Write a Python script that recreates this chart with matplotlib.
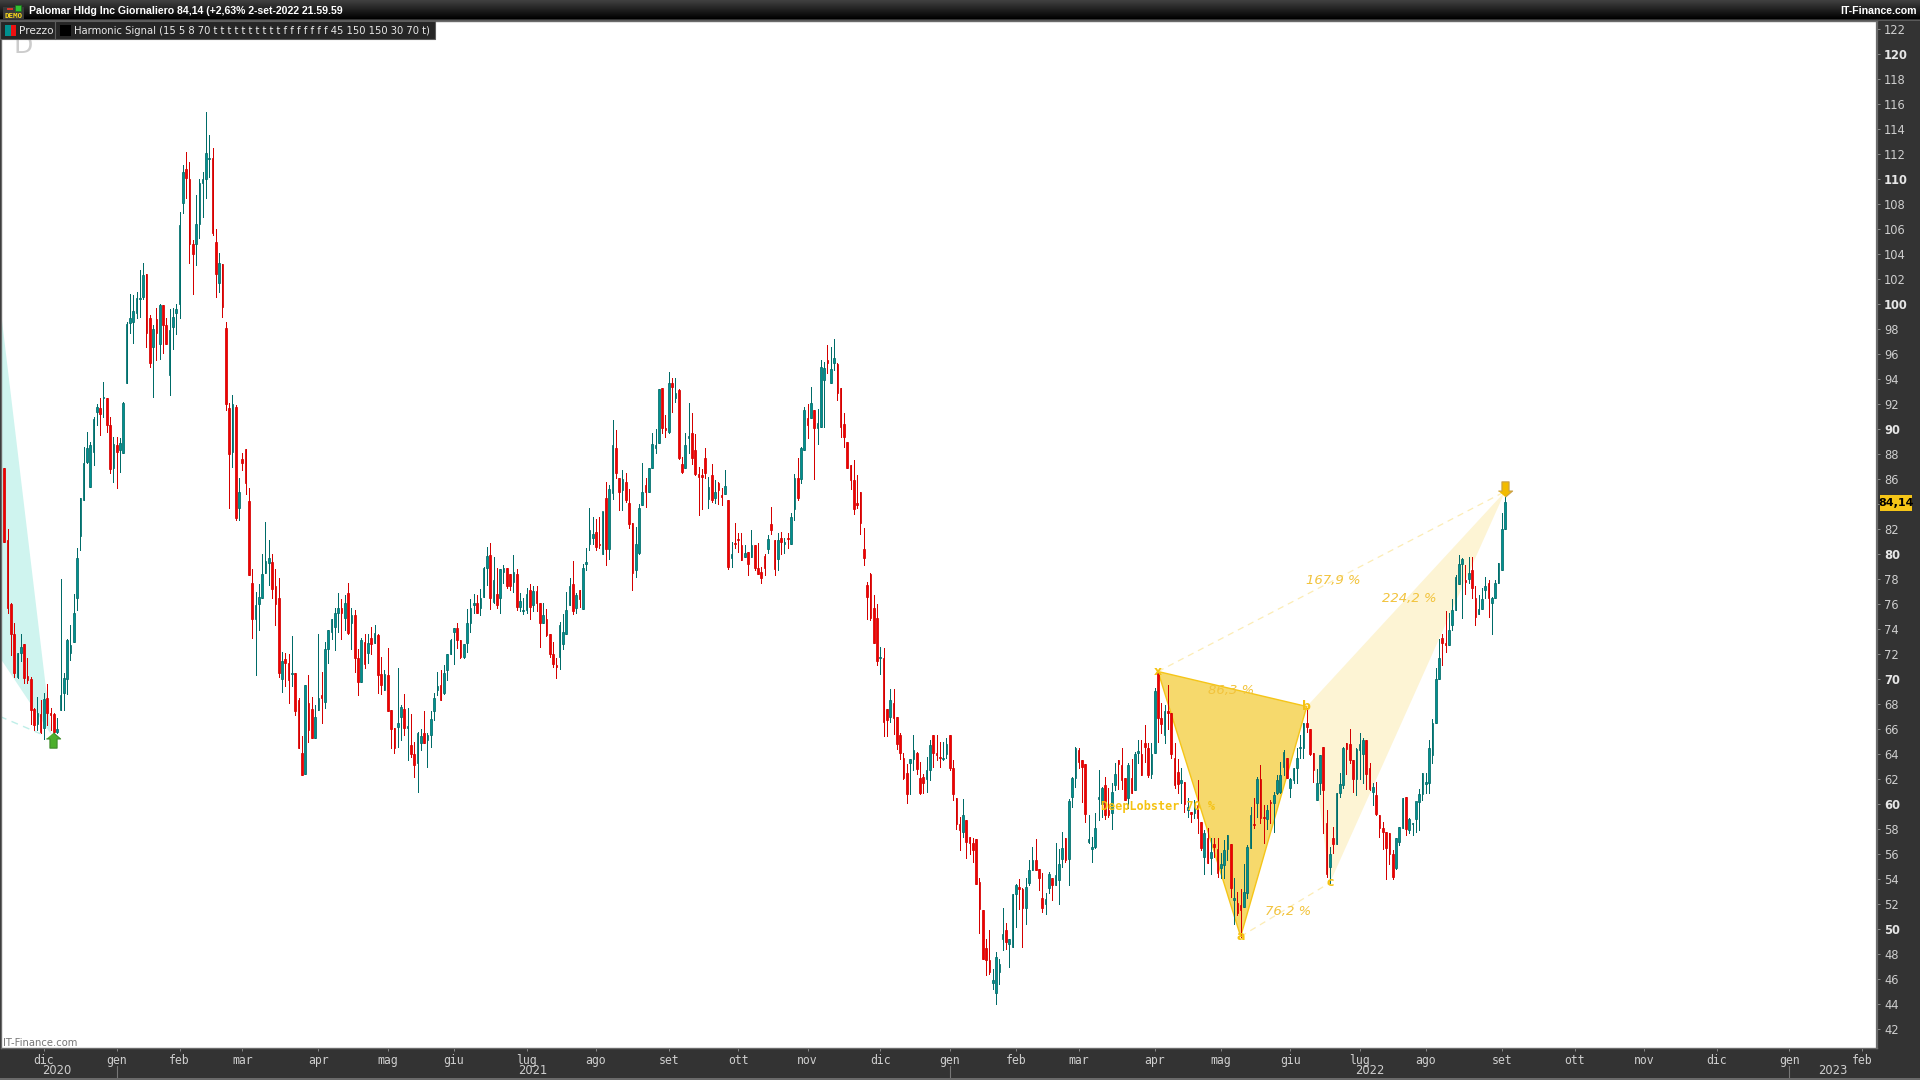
import matplotlib
matplotlib.use("Agg")
import matplotlib.pyplot as plt
import numpy as np
from matplotlib.patches import Rectangle
from matplotlib.transforms import blended_transform_factory

# daily candles, one row = 10 sessions
opens = [
    86.9,81.1,76.0,73.6,70.2,72.1,72.8,70.2,70.0,67.6,
    66.4,67.2,66.1,68.5,67.3,67.2,65.8,67.5,68.9,70.0,
    72.1,73.0,76.5,81.4,84.3,87.4,85.4,88.2,91.4,91.7,
    92.5,92.5,90.3,86.9,88.7,88.3,88.1,93.7,98.5,98.6,
    99.3,100.4,100.6,102.4,98.9,96.6,98.8,96.8,99.9,98.3,
    94.3,98.2,99.3,100.0,108.1,110.8,110.0,104.8,104.8,106.4,
    109.7,110.0,111.6,111.7,105.0,101.7,103.2,98.1,91.7,88.2,
    91.8,83.7,87.6,88.4,84.2,77.7,74.8,76.0,76.5,78.5,
    79.3,79.4,77.4,76.5,70.0,71.6,71.3,70.4,70.5,68.3,
    64.1,62.4,68.1,67.6,65.3,67.5,68.7,68.2,72.4,73.8,
    74.2,75.3,75.7,74.9,76.9,74.5,75.1,71.7,69.8,73.0,
    72.1,73.3,72.9,73.5,70.4,69.1,70.3,67.5,66.1,66.2,
    67.0,67.6,66.1,64.7,64.0,63.3,64.9,65.7,65.1,65.5,
    67.4,69.1,69.5,68.9,70.7,72.0,73.8,74.1,73.1,71.8,
    72.9,74.5,75.9,76.1,75.7,76.6,78.9,79.9,76.2,76.8,
    76.5,78.6,78.9,78.4,77.8,78.4,75.8,75.4,75.5,77.1,
    75.9,77.0,76.1,74.5,74.8,73.6,72.0,71.1,71.8,72.8,
    73.6,75.9,77.6,75.7,77.1,75.6,79.2,80.8,81.3,81.8,
    80.8,80.0,84.5,80.4,84.9,88.5,86.1,85.1,85.8,84.1,
    82.5,78.7,80.1,83.9,85.5,85.0,86.9,88.5,88.9,93.3,
    90.1,89.8,93.7,92.5,93.1,87.2,86.9,89.3,89.7,88.3,
    86.4,86.3,87.7,84.4,86.3,84.5,85.7,84.7,84.8,84.3,
    79.7,80.9,81.2,80.7,79.8,80.2,79.8,80.7,78.9,78.6,
    79.8,80.4,82.4,81.1,79.6,81.3,80.8,81.3,80.8,83.6,
    86.1,86.0,88.3,90.9,90.9,91.5,90.1,90.2,93.9,95.5,
    93.7,95.3,95.2,93.3,90.4,89.0,87.1,85.9,84.1,85.0,
    80.4,77.5,78.4,75.7,74.9,71.7,71.7,67.6,67.0,68.1,
    67.0,65.5,63.7,62.5,63.3,63.6,64.1,62.1,62.2,62.0,
    62.7,65.5,64.1,63.8,63.6,64.0,65.5,62.9,60.5,58.4,
    57.8,58.7,57.4,56.9,57.2,53.8,51.5,48.5,47.5,45.7,
    44.9,46.6,49.2,49.9,48.8,48.6,52.8,53.4,53.2,51.7,
    53.7,54.7,55.5,54.8,52.5,52.0,53.3,54.1,53.5,53.9,
    55.6,57.3,55.6,60.6,62.1,64.3,63.5,63.2,57.0,56.4,
    56.6,60.4,60.0,61.5,59.5,59.3,61.5,63.5,63.1,62.1,
    60.5,62.1,61.1,64.1,64.0,64.9,64.5,62.4,64.1,70.5,
    66.9,65.5,67.4,67.3,63.7,62.6,61.7,61.8,59.5,59.4,
    59.3,59.9,58.6,55.8,57.3,55.7,56.8,56.4,54.9,55.1,
    56.4,56.8,52.3,52.1,51.9,51.8,52.9,56.5,58.4,60.1,
    62.0,59.0,58.8,60.2,60.1,60.9,61.0,63.0,63.7,61.3,
    61.9,62.9,64.5,64.5,66.5,66.0,64.1,60.3,61.7,64.6,
    58.5,55.0,57.3,56.8,60.9,61.5,64.9,64.8,63.5,62.0,
    64.3,64.0,65.1,62.9,61.0,60.7,59.1,58.1,57.8,57.7,
    56.0,54.9,57.0,58.1,60.6,57.9,58.4,58.8,60.2,60.8,
    61.6,61.7,63.9,66.5,70.0,73.3,72.9,72.7,74.3,75.5,
    77.6,79.2,77.9,78.0,78.7,76.5,75.2,75.6,77.1,77.7,
    76.1,76.5,77.7,78.7,82.0,
]
closes = [
    81.0,75.7,73.6,70.5,72.1,72.6,70.1,69.9,67.5,66.3,
    67.3,65.8,68.4,67.3,67.1,65.8,66.0,68.7,70.1,73.1,
    72.7,75.3,79.7,84.5,87.3,88.5,88.7,90.8,91.8,91.2,
    92.6,90.3,86.8,88.8,88.2,88.9,92.1,98.4,98.9,99.4,
    100.5,100.5,102.3,97.7,95.3,98.0,97.7,99.9,98.3,96.8,
    97.9,99.0,99.6,106.3,110.6,110.1,104.8,104.0,106.4,109.7,
    110.0,112.1,111.7,105.7,102.4,103.3,99.8,92.0,88.0,92.0,
    82.9,85.0,87.3,85.7,78.3,74.8,75.9,76.6,78.4,79.4,
    79.7,77.2,76.0,70.5,71.4,71.3,69.9,70.5,67.4,64.5,
    62.3,69.5,65.9,65.3,67.0,68.5,68.5,72.4,73.9,74.8,
    75.3,75.7,75.3,76.1,73.7,75.1,71.7,69.8,73.1,71.2,
    72.9,72.8,73.7,70.3,69.5,70.4,67.4,66.0,64.5,66.5,
    67.8,66.1,66.2,64.0,63.1,65.7,65.4,64.9,65.5,66.8,
    68.5,69.4,68.3,70.5,72.0,73.1,74.1,73.1,71.8,72.8,
    74.5,75.7,76.1,75.3,76.5,78.9,79.8,76.5,77.9,75.9,
    78.8,78.9,77.4,77.4,78.6,75.8,76.2,75.5,76.8,75.8,
    77.0,76.1,74.5,75.1,73.5,72.0,71.2,71.0,74.3,73.8,
    75.5,77.4,75.4,76.7,76.4,78.9,79.4,81.9,81.6,80.6,
    80.7,83.4,80.4,85.2,88.7,86.5,85.0,86.0,84.3,82.4,
    78.5,80.8,83.7,85.0,85.0,86.9,88.8,88.7,93.2,90.1,
    89.9,93.7,93.4,92.9,87.7,86.6,88.7,89.4,87.7,86.4,
    86.2,86.2,86.5,85.4,84.3,85.0,85.1,84.6,85.4,79.0,
    80.0,80.8,81.1,79.5,80.1,79.2,80.7,78.9,78.4,78.1,
    78.9,81.2,81.9,78.8,81.1,81.0,81.0,81.2,83.0,86.1,
    84.5,88.5,91.5,90.3,92.1,90.1,90.5,95.0,94.9,95.3,
    94.8,95.7,92.9,90.2,89.4,86.9,85.9,83.6,83.9,82.5,
    79.7,76.6,74.9,72.9,71.4,71.8,66.6,66.7,68.3,66.9,
    64.8,64.1,62.1,60.8,63.6,64.3,62.8,60.9,61.7,62.7,
    64.7,64.1,63.9,63.7,63.7,64.8,62.9,60.8,58.4,57.9,
    59.1,57.0,56.9,56.3,53.6,51.6,47.6,47.5,46.6,45.9,
    47.8,47.2,49.6,49.0,49.2,52.8,53.5,53.2,51.7,53.4,
    54.7,55.5,54.7,54.1,51.7,52.4,54.4,53.5,54.3,55.2,
    56.5,55.5,60.2,62.1,64.5,63.4,63.0,59.2,57.2,56.6,
    58.1,60.6,61.3,59.1,59.1,61.0,62.4,63.2,61.9,60.3,
    63.1,60.9,64.0,64.2,62.3,64.6,62.3,64.0,69.0,66.9,
    66.4,67.4,67.3,64.0,61.5,61.6,61.9,60.0,59.8,59.2,
    60.1,58.9,56.5,57.7,55.3,56.2,56.6,54.5,55.2,56.3,
    57.5,53.3,52.5,51.3,51.5,53.0,56.6,59.1,58.3,62.0,
    58.9,58.9,59.5,60.1,60.7,61.9,62.3,64.2,62.1,62.0,
    62.9,63.7,64.6,66.5,66.2,64.0,62.7,61.7,63.9,61.1,
    54.4,56.0,56.8,60.9,61.6,64.5,64.4,63.5,62.0,64.4,
    64.8,65.1,62.4,61.2,61.4,59.2,58.1,57.8,56.5,56.0,
    54.2,57.3,58.2,60.5,58.0,58.8,58.5,60.2,60.8,62.5,
    61.8,64.5,66.5,70.0,71.7,72.9,72.7,73.9,75.5,78.2,
    79.2,79.6,77.8,78.5,77.3,75.0,75.6,76.4,77.4,76.5,
    76.5,77.7,79.3,82.0,84.14,
]
highs = [
    86.9,82.0,76.1,74.5,72.1,73.6,72.8,71.7,70.2,67.7,
    68.6,68.3,68.9,69.6,67.7,67.3,66.9,78.0,70.5,73.2,
    74.3,76.8,80.5,84.5,88.6,89.8,89.0,91.0,92.0,92.5,
    93.8,92.5,91.0,89.4,89.4,89.3,92.2,98.6,100.8,100.7,
    101.0,102.7,103.3,102.4,99.1,98.3,99.7,100.0,99.9,98.9,
    99.6,99.7,100.0,107.4,111.1,112.2,111.4,105.1,108.7,110.0,
    110.6,115.4,113.5,112.5,106.0,104.1,103.2,98.6,92.1,92.7,
    91.9,86.1,88.1,88.4,85.3,78.8,77.0,77.6,80.0,82.6,
    81.1,80.0,78.8,78.1,72.2,72.1,72.0,73.4,70.5,68.5,
    65.4,69.5,70.3,68.6,67.9,73.6,70.6,73.0,73.9,74.8,
    75.7,76.9,76.4,76.7,77.7,75.7,75.5,72.4,73.3,73.6,
    73.6,74.2,74.3,73.6,71.8,70.7,72.5,67.5,66.1,70.9,
    67.9,68.8,67.7,67.2,65.0,65.8,66.0,67.4,65.7,67.4,
    68.9,70.6,70.7,71.1,72.0,73.2,74.1,74.5,73.1,72.8,
    75.6,76.4,76.8,76.7,77.2,79.0,80.6,80.9,79.8,78.9,
    78.8,79.1,78.9,78.4,79.9,78.8,76.9,76.5,77.3,77.6,
    77.4,77.4,76.1,76.1,75.6,73.6,73.0,71.7,74.6,75.2,
    77.0,78.1,79.4,76.9,77.1,79.2,80.5,83.7,83.0,82.8,
    83.0,83.4,85.8,85.5,90.7,89.9,86.1,86.7,86.5,85.2,
    82.5,82.2,84.0,87.3,86.1,86.9,89.7,90.0,93.2,93.3,
    91.1,94.6,94.1,94.1,93.2,87.8,89.7,92.1,91.3,89.6,
    87.0,86.8,88.5,86.2,87.2,85.9,85.8,85.3,86.7,84.3,
    81.0,82.5,81.7,81.7,80.7,80.2,81.9,80.7,80.9,79.0,
    80.0,81.5,83.8,81.1,81.7,81.8,81.3,81.7,83.3,86.4,
    87.7,88.6,91.8,92.0,93.4,91.5,91.6,95.5,95.4,96.7,
    96.6,97.2,95.3,93.3,91.3,89.0,87.1,87.5,86.3,85.0,
    82.1,77.8,78.5,76.7,76.0,72.6,72.5,67.6,69.2,69.2,
    67.0,65.7,64.1,63.2,63.6,65.5,64.2,63.4,62.4,63.8,
    65.1,65.5,65.5,65.0,65.0,65.3,65.5,63.5,60.5,59.0,
    60.4,58.7,57.4,57.3,57.2,54.1,51.5,49.2,49.9,46.8,
    48.2,47.6,51.7,50.5,49.2,52.8,53.6,54.0,53.3,54.1,
    55.5,56.6,57.2,54.8,54.5,52.9,54.6,54.1,56.9,56.4,
    57.8,57.3,60.4,62.2,64.6,64.5,63.5,63.2,59.1,57.4,
    59.3,62.7,61.4,62.2,61.3,61.7,63.3,63.5,64.5,62.1,
    63.3,63.6,64.2,65.1,65.1,66.3,64.9,64.9,69.3,70.5,
    68.1,67.9,69.5,67.3,64.9,63.6,62.9,61.8,60.5,59.4,
    60.3,61.9,58.6,57.9,58.1,57.3,57.3,57.3,56.1,57.1,
    57.5,56.8,54.1,53.0,53.2,55.2,56.7,59.8,60.5,62.2,
    63.1,59.9,59.9,60.3,61.0,62.3,63.4,64.3,63.7,62.1,
    62.9,64.5,65.5,66.5,67.7,66.0,64.1,62.8,63.9,64.6,
    59.5,56.6,58.2,60.9,62.5,64.6,64.9,66.0,63.5,64.5,
    65.7,65.3,65.1,63.3,61.7,61.8,59.1,58.6,57.8,57.7,
    56.3,57.3,58.2,60.5,60.6,58.9,58.5,60.2,61.2,62.5,
    62.5,65.1,66.8,70.9,73.2,73.6,75.4,75.3,76.4,78.3,
    79.9,79.7,79.1,79.8,79.8,77.4,76.7,77.3,78.2,77.9,
    76.6,77.9,79.3,83.3,84.6,
]
lows = [
    81.0,75.3,71.9,70.2,70.1,71.4,69.7,69.7,66.4,65.9,
    65.9,65.7,65.2,66.3,65.9,65.7,65.7,67.5,67.5,68.8,
    71.5,73.0,75.5,80.3,84.3,87.3,85.4,87.1,90.3,89.5,
    91.0,89.8,86.5,85.8,85.3,86.6,88.1,93.7,97.7,96.9,
    98.9,99.0,100.4,96.6,95.0,92.6,95.5,95.6,96.1,96.8,
    92.7,96.4,97.6,98.9,107.3,108.5,103.3,100.8,103.1,105.3,
    107.0,108.5,110.2,105.5,100.6,101.0,99.0,91.5,83.7,87.0,
    82.7,82.7,86.7,84.8,78.3,73.3,70.3,73.9,76.5,78.5,
    77.5,76.5,74.3,70.2,69.0,69.4,68.1,69.4,67.1,64.5,
    62.3,62.4,65.0,65.3,65.3,67.5,66.5,67.7,71.3,73.2,
    72.3,73.8,73.2,73.9,73.6,72.4,70.6,68.7,69.8,70.9,
    71.3,72.0,72.9,68.9,68.8,69.1,67.4,64.5,64.1,64.6,
    65.1,65.5,63.5,63.8,62.2,61.0,64.3,64.9,63.0,64.6,
    66.7,68.7,68.3,68.8,69.9,72.0,71.2,72.5,71.7,71.7,
    72.2,73.8,75.3,75.3,75.1,76.6,77.5,75.6,76.1,75.7,
    75.3,77.7,77.3,77.1,77.0,75.5,75.4,75.2,75.3,74.8,
    75.4,75.4,72.6,74.5,73.4,71.8,71.0,70.1,70.8,72.4,
    73.6,75.9,75.2,75.3,75.8,75.6,78.7,80.3,80.8,80.3,
    80.5,80.0,79.1,79.6,84.4,86.1,83.5,83.5,84.2,82.1,
    77.1,78.2,80.0,83.9,83.8,85.0,86.9,88.1,88.9,89.7,
    89.4,89.7,91.4,92.2,87.6,86.5,86.9,88.1,87.2,86.3,
    83.1,83.6,86.1,83.7,84.2,84.1,84.0,83.9,84.8,78.8,
    79.0,80.5,80.2,79.5,79.8,78.3,79.8,78.7,78.4,77.7,
    78.3,80.1,81.6,78.3,78.7,80.0,80.1,80.5,80.8,82.7,
    84.3,85.7,88.3,89.3,90.9,86.0,88.8,90.2,90.2,94.5,
    93.7,94.7,92.3,89.4,88.6,86.9,85.2,83.2,83.7,81.6,
    79.1,74.8,74.7,72.9,71.1,70.4,65.4,65.4,66.6,65.6,
    64.4,63.6,62.0,60.1,60.8,62.7,62.4,60.8,60.9,61.0,
    61.9,63.0,63.5,63.0,63.5,63.7,62.7,60.3,58.0,56.3,
    57.4,55.7,56.0,55.4,53.6,49.7,47.6,46.3,46.4,45.2,
    44.0,45.6,48.3,48.4,47.0,48.6,50.2,51.6,48.6,50.4,
    53.5,54.7,54.7,53.1,51.4,51.2,52.9,52.3,53.5,52.0,
    55.0,55.4,53.5,59.8,61.4,62.9,60.2,58.6,56.9,55.4,
    56.5,58.7,59.0,58.8,59.0,58.0,61.1,61.2,61.2,60.3,
    59.7,60.9,61.1,63.3,62.3,63.4,62.2,62.1,64.1,65.0,
    65.7,64.9,66.0,63.7,61.3,60.9,60.1,59.4,59.0,58.6,
    58.9,57.7,56.3,54.4,55.3,54.4,55.8,54.2,54.1,54.1,
    55.5,52.6,50.4,51.1,49.4,51.8,52.5,56.5,58.1,59.0,
    58.5,56.9,58.0,58.5,57.8,60.8,60.9,62.3,62.1,60.6,
    61.7,61.7,63.7,63.7,65.8,63.9,61.8,60.3,60.8,57.7,
    54.2,53.7,56.1,56.8,60.6,61.3,62.4,63.3,61.0,60.7,
    62.0,61.7,61.2,61.1,59.9,59.1,57.4,56.4,54.0,55.2,
    54.0,54.8,56.7,58.1,57.5,57.7,57.5,57.8,57.9,60.3,
    60.9,60.9,63.3,66.5,70.0,71.1,72.2,72.7,73.9,75.5,
    77.6,74.9,76.8,77.7,76.5,74.3,75.2,75.6,76.5,75.0,
    73.6,76.5,77.7,78.7,82.0,
]

# session index of the first session of each month on the time axis
month_ticks = [12, 34, 53, 72, 95, 116, 136, 158, 179, 201, 222, 243, 265, 286, 306,
               325, 348, 368, 389, 410, 430, 453, 475, 496, 518, 540, 562]
month_labels = ["dic", "gen", "feb", "mar", "apr", "mag", "giu", "lug", "ago", "set", "ott",
                "nov", "dic", "gen", "feb", "mar", "apr", "mag", "giu", "lug", "ago", "set",
                "ott", "nov", "dic", "gen", "feb"]
year_breaks = [34, 286, 540]
year_label_pos = [16, 160, 413, 553]
year_labels = ["2020", "2021", "2022", "2023"]

price_ticks = list(range(42, 124, 2))

# harmonic pattern pivots X a b c d
pivot_idx = [349, 374, 394, 401, 454]
pivot_price = [70.6, 49.4, 67.8, 53.7, 85.0]
pivot_names = ["x", "a", "b", "c"]
ratio_labels = ["167,9 %", "224,2 %", "86,3 %", "76,2 %"]
ratio_idx = [402, 425, 371, 388.5]
ratio_price = [77.9, 76.4, 69.1, 51.4]
pattern_label = "DeepLobster 70 %"

# older pattern that ends just after the left edge
old_idx = [-1.3, 14.3, -1.3]
old_price = [100.0, 65.5, 71.7]
old_dash_idx = [-1.3, 12.0]
old_dash_price = [67.0, 65.5]

last_close = 84.14
up_signal = (14.7, 65.1)
down_signal = (454, 85.2)

TEAL = "#009090"
TEAL_EDGE = "#006b68"
RED = "#f00000"
RED_EDGE = "#d40000"
PANEL = "#333333"
GOLD = "#f5c211"

WIDTH, HEIGHT = 1920, 1080
fig = plt.figure(figsize=(WIDTH / 100, HEIGHT / 100), dpi=100, facecolor=PANEL)
ax = fig.add_axes([1 / WIDTH, 1 - 1048 / HEIGHT, 1876 / WIDTH, 1027 / HEIGHT], facecolor="white")
ax.set_xlim(-1.0, 566.5)
ax.set_ylim(40.48, 122.64)

# pattern fills sit under the candles
ax.fill(old_idx, old_price, color="#cff4ef", linewidth=0, zorder=1)
ax.plot(old_dash_idx, old_dash_price, color="#bfeee8", linewidth=1, dashes=(5, 4), zorder=1)
ax.fill(pivot_idx[:3], pivot_price[:3], color="#f6d96c", linewidth=0, zorder=1)
ax.fill([pivot_idx[2], pivot_idx[3], pivot_idx[4]], [pivot_price[2], pivot_price[3], pivot_price[4]],
        color="#fdf4d4", linewidth=0, zorder=1)
ax.plot([pivot_idx[0], pivot_idx[1], pivot_idx[2], pivot_idx[0]],
        [pivot_price[0], pivot_price[1], pivot_price[2], pivot_price[0]],
        color="#f5c518", linewidth=1.0, zorder=2)
ax.plot([pivot_idx[0], pivot_idx[4]], [pivot_price[0], pivot_price[4]], color="#fcecb4",
        linewidth=0.9, dashes=(5, 4), zorder=2)
ax.plot([pivot_idx[1], pivot_idx[3]], [pivot_price[1], pivot_price[3]], color="#fcecb4",
        linewidth=0.9, dashes=(5, 4), zorder=2)

idx = np.arange(len(opens))
o = np.array(opens)
c = np.array(closes)
up = c >= o
wick_colors = [TEAL_EDGE if u else RED_EDGE for u in up]
ax.vlines(idx, lows, highs, colors=wick_colors, linewidth=0.7, antialiased=False, zorder=3)
ax.bar(idx[up], (c - o)[up], bottom=o[up], width=0.5, color=TEAL, edgecolor=TEAL_EDGE,
       linewidth=0.55, zorder=4)
ax.bar(idx[~up], (o - c)[~up], bottom=c[~up], width=0.5, color=RED, edgecolor=RED_EDGE,
       linewidth=0.55, zorder=4)

for name, i, p in zip(pivot_names, pivot_idx, pivot_price):
    ax.text(i, p, name, color=GOLD, fontsize=9, ha="center", va="center", fontweight="bold", zorder=6)
for label, i, p in zip(ratio_labels, ratio_idx, ratio_price):
    ax.text(i, p, label, color="#f2c33c", fontsize=9.5, style="italic", ha="center", va="center", zorder=6)
ax.text(349, 59.8, pattern_label, color=GOLD, fontsize=8.5, family="DejaVu Sans Mono",
        fontweight="bold", ha="center", va="center", zorder=6)

# signal arrows
arrow_up = [(0, 7.5), (7, 1.5), (3.5, 1.5), (3.5, -7.5), (-3.5, -7.5), (-3.5, 1.5), (-7, 1.5)]
arrow_down = [(x, -y) for x, y in arrow_up]
ax.plot(*up_signal, marker=arrow_up, markersize=11, markerfacecolor="#4caf2c",
        markeredgecolor="#3d8b2a", markeredgewidth=0.8, linestyle="none", zorder=7)
ax.plot(*down_signal, marker=arrow_down, markersize=11, markerfacecolor="#f2bb00",
        markeredgecolor="#c9a04a", markeredgewidth=0.8, linestyle="none", zorder=7)

# axes furniture, the last price tag hides the 84 label
ax.yaxis.tick_right()
ax.set_yticks(price_ticks)
ax.set_yticklabels(["" if p == 84 else str(p) for p in price_ticks], fontsize=8.3, color="#cfcfcf")
for lab, p in zip(ax.get_yticklabels(), price_ticks):
    if p % 10 == 0:
        lab.set_fontweight("bold")
        lab.set_color("#e6e6e6")
ax.set_xticks(month_ticks)
ax.set_xticklabels(month_labels, fontsize=8.3, color="#cfcfcf", family="DejaVu Sans Mono")
ax.tick_params(axis="y", length=2.5, width=0.7, color="#888888", pad=2.5)
ax.tick_params(axis="x", length=2.5, width=0.7, color="#888888", pad=1.5)
for side in ["top", "left", "right", "bottom"]:
    ax.spines[side].set_color("#6b6b6b")
    ax.spines[side].set_linewidth(1.0)
ax.spines["right"].set_linewidth(1.6)

year_trans = blended_transform_factory(ax.transData, fig.transFigure)
for pos, label in zip(year_label_pos, year_labels):
    ax.text(pos, 1 - 1071 / HEIGHT, label, transform=year_trans, color="#cfcfcf", fontsize=8.3,
            ha="center", va="center", clip_on=False)
for pos in year_breaks:
    ax.plot([pos, pos], [1 - 1066 / HEIGHT, 1 - 1078 / HEIGHT], transform=year_trans, color="#777777",
            linewidth=0.8, clip_on=False)

# overlay in pixel coordinates for the platform chrome
chrome = fig.add_axes([0, 0, 1, 1])
chrome.patch.set_visible(False)
chrome.axis("off")
gradient = np.linspace(0.27, 0.0, 64).reshape(-1, 1)
chrome.imshow(gradient, extent=(0, WIDTH, 19.5, 0), cmap="gray", vmin=0, vmax=1, aspect="auto")
chrome.set_xlim(0, WIDTH)
chrome.set_ylim(HEIGHT, 0)
chrome.add_patch(Rectangle((0, 19.5), WIDTH, 1.5, color="#5a5a5a", linewidth=0))
chrome.add_patch(Rectangle((0, 1077.5), WIDTH, 2.5, color="#6b6b6b", linewidth=0))
chrome.add_patch(Rectangle((0, 21), 55, 18, facecolor="#262626", edgecolor="#5c5c5c", linewidth=0.8))
chrome.add_patch(Rectangle((55, 21), 380, 18, facecolor="#262626", edgecolor="#5c5c5c", linewidth=0.8))

# icon DEMO
chrome.add_patch(Rectangle((3, 7), 21, 12, color="#3a3a3a", linewidth=0))
chrome.add_patch(Rectangle((15, 5), 6, 6, facecolor="#33c233", edgecolor="#1d6b1d", linewidth=0.5))
chrome.add_patch(Rectangle((7, 8), 6, 2, color="#d9342b", linewidth=0))
chrome.text(13.5, 15.5, "DEMO", color="#f7d81c", fontsize=5.4, fontweight="bold", ha="center", va="center",
            family="DejaVu Sans Mono")

chrome.text(29, 10.5, "Palomar Hldg Inc Giornaliero 84,14 (+2,63% 2-set-2022 21.59.59", color="white",
            fontsize=7.6, fontweight="bold", family="Liberation Sans", ha="left", va="center")
chrome.text(1917, 10.5, "IT-Finance.com", color="white", fontsize=7.6, fontweight="bold",
            family="Liberation Sans", ha="right", va="center")

# legend strip
chrome.add_patch(Rectangle((5, 25), 5.5, 10.5, color="#00908f", linewidth=0))
chrome.add_patch(Rectangle((10.5, 25), 5.5, 10.5, color="#ee1111", linewidth=0))
chrome.text(19, 30.5, "Prezzo", color="#e8e8e8", fontsize=7.6, ha="left", va="center")
chrome.add_patch(Rectangle((60, 25), 11, 11, color="black", linewidth=0))
chrome.text(74, 30.5, "Harmonic Signal (15 5 8 70 t t t t t t t t t t f f f f f f f 45 150 150 30 70 t)",
            color="#e8e8e8", fontsize=7.2, ha="left", va="center")

chrome.text(13, 53, "D", color="#cccccc", fontsize=18, ha="left", va="baseline", zorder=0)
chrome.text(3, 1043, "IT-Finance.com", color="#777777", fontsize=7.2, ha="left", va="center")

# last price tag
chrome.add_patch(Rectangle((1880, 495), 32, 16, color="#f5c518", linewidth=0))
chrome.text(1896, 503.5, "84,14", color="black", fontsize=8, fontweight="bold", ha="center", va="center")

fig.savefig("out.png", dpi=100, facecolor=fig.get_facecolor())
